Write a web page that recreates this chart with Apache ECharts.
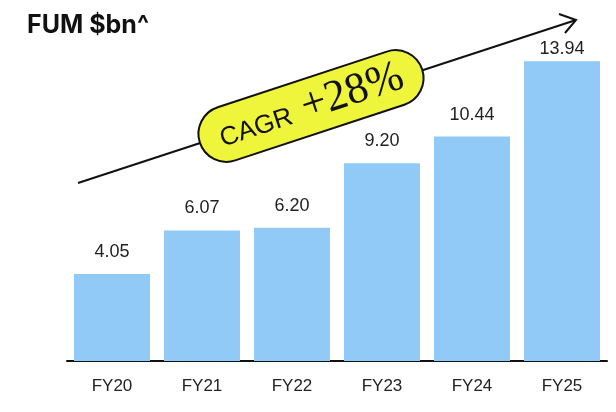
<!DOCTYPE html>
<html>
<head>
<meta charset="utf-8">
<style>
  html, body { margin: 0; padding: 0; background: #fff; }
  #main { width: 616px; height: 412px; }
</style>
<script src="https://cdn.jsdelivr.net/npm/echarts@6/dist/echarts.min.js"></script>
</head>
<body>
<div id="main"></div>
<script>
const years = ["FY20", "FY21", "FY22", "FY23", "FY24", "FY25"];
const fum = [4.05, 6.07, 6.2, 9.2, 10.44, 13.94];
const cagrText = "+28%";

const chart = echarts.init(document.getElementById("main"));

// last label sits closer to its bar so the arrow clears it
const barData = fum.map((v, i) =>
  i === fum.length - 1 ? { value: v, label: { distance: 3 } } : v
);

const option = {
  animation: false,
  title: {
    text: "FUM $bn^",
    left: 22,
    top: 8,
    textStyle: { fontFamily: "Inter", fontWeight: "bold", fontSize: 25, color: "#111" },
  },
  grid: { left: 67, right: 9, top: 60, bottom: 51 },
  xAxis: {
    type: "category",
    data: years,
    axisLine: { lineStyle: { color: "#111", width: 2 } },
    axisTick: { show: false },
    axisLabel: { color: "#222", fontSize: 17, fontFamily: "Liberation Sans", margin: 17 },
  },
  yAxis: {
    type: "value",
    min: 0,
    max: 14,
    show: false,
  },
  series: [
    {
      type: "bar",
      data: barData,
      barWidth: 76,
      itemStyle: { color: "#91C9F7" },
      label: {
        show: true,
        position: "top",
        distance: 13,
        color: "#222",
        fontSize: 18,
        fontFamily: "Liberation Sans",
        formatter: (p) => p.value.toFixed(2),
      },
    },
  ],
  graphic: [
    {
      type: "line",
      shape: { x1: 78, y1: 183, x2: 576, y2: 20 },
      style: { stroke: "#111", lineWidth: 2 },
      z: 10,
    },
    {
      type: "polyline",
      shape: { points: [[559, 14], [576, 20], [565, 33]] },
      style: { stroke: "#111", lineWidth: 2, fill: null },
      z: 10,
    },
    {
      type: "group",
      x: 311,
      y: 106,
      rotation: 0.318,
      z: 20,
      children: [
        {
          type: "rect",
          shape: { x: -117, y: -28, width: 234, height: 56, r: 28 },
          style: { fill: "#EFF53B", stroke: "#111", lineWidth: 2 },
          z: 20,
        },
        {
          type: "text",
          x: 0,
          y: 0,
          z: 21,
          style: {
            text: "{a|CAGR}{b|" + cagrText + "}",
            align: "center",
            verticalAlign: "middle",
            rich: {
              a: { fontFamily: "Liberation Sans", fontSize: 26, fill: "#111", color: "#111", padding: [8, 0, 0, 0] },
              b: { fontFamily: "Liberation Serif", fontSize: 44, fill: "#111", color: "#111", padding: [0, 0, 0, 12] },
            },
          },
        },
      ],
    },
  ],
};

chart.setOption(option);
</script>
</body>
</html>
